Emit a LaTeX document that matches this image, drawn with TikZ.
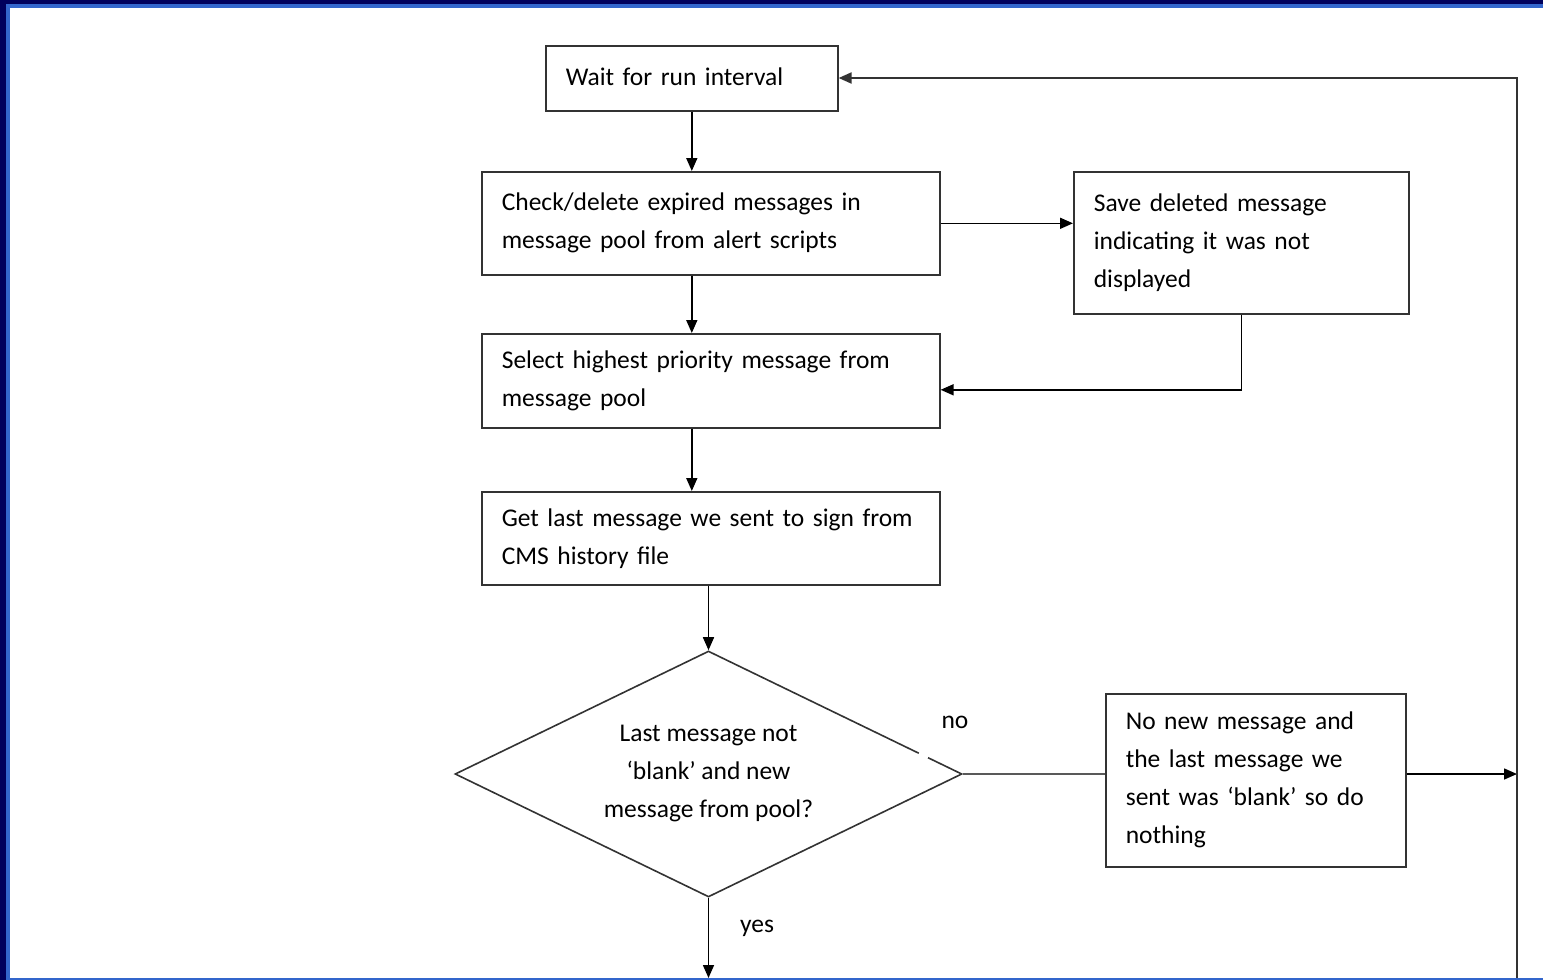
\documentclass[tikz,border=0pt]{standalone}
\usepackage{fontspec}
\setmainfont{Carlito}
\usetikzlibrary{arrows.meta,shapes.geometric}
\definecolor{navy}{HTML}{00005C}
\definecolor{frameblue}{HTML}{3366CC}
\definecolor{edge}{HTML}{333333}
\begin{document}
\begin{tikzpicture}[x=1pt,y=-1pt,
  box/.style={draw=edge,line width=1.6pt,rectangle,align=left,inner xsep=20pt,inner ysep=0pt,anchor=north west,font=\fontsize{25.5}{38}\selectfont},
  flow/.style={draw=black,line width=1.6pt,-{Triangle[length=13pt,width=11pt]}},
  plain/.style={draw=black!65,line width=2pt},
  lab/.style={font=\fontsize{25.5}{30}\selectfont,inner sep=0pt}]
\useasboundingbox (0,0) rectangle (1543,980);
\fill[navy] (0,0) rectangle (1543,980);
\fill[frameblue] (6,4) rectangle (1543,980);
\fill[white] (10,8) rectangle (1543,978);

\node[box, text width=252pt, minimum height=65pt] (wait) at (545,45) {\raisebox{3pt}{Wait for run interval}};
\node[box, text width=418pt, minimum height=103pt] (check) at (481,171) {\mbox{Check/delete expired messages in}\\\mbox{message pool from alert scripts}};
\node[box, text width=295pt, minimum height=142pt] (save) at (1073,171) {\mbox{Save deleted message}\\\mbox{indicating it was not}\\displayed};
\node[box, text width=418pt, minimum height=94pt] (select) at (481,333) {\mbox{Select highest priority message from}\\\mbox{message pool}};
\node[box, text width=418pt, minimum height=93pt] (getlast) at (481,491) {\mbox{Get last message we sent to sign from}\\\mbox{CMS history file}};
\node[diamond, draw=edge, line width=1.6pt, minimum width=507pt, minimum height=246pt, aspect=2, inner sep=0pt, align=center, font=\fontsize{25.5}{38}\selectfont] (dec) at (708.5,774) {Last message not\\‘blank’ and new\\message from pool?};
\node[box, text width=260pt, minimum height=173pt] (nothing) at (1105,693) {\mbox{No new message and}\\\mbox{the last message we}\\\mbox{sent was ‘blank’ so do}\\nothing};

\node[lab] (no) at (955,722) {no};
\node[lab] (yes) at (757,928) {yes};

\coordinate (rb) at (1517,980);
\coordinate (rt) at (1517,78);
\coordinate (yesend) at (708.5,978);

\draw[flow] (wait.south) -- (wait.south |- check.north);
\draw[flow] (wait.south |- check.south) -- (wait.south |- select.north);
\draw[flow] (wait.south |- select.south) -- (wait.south |- getlast.north);
\draw[flow] (dec.north |- getlast.south) -- (dec.north);
\draw[flow] (check.east) -- (save.west |- check.east);
\draw[flow] (save.south) |- ([yshift=-9pt]select.east);
\draw[plain] (dec.east) -- (dec.east -| nothing.west);
\draw[flow] (nothing.east |- dec.east) -- (rb |- dec.east);
\draw[flow, draw=edge, line width=2pt] (rb) -- (rt) -- (wait.east |- rt);
\draw[flow] (dec.south) -- (yesend);

\draw[white, line width=4pt] (919,753) -- (928,757.4);
\fill[frameblue] (6,978) rectangle (1543,980);
\end{tikzpicture}
\end{document}
